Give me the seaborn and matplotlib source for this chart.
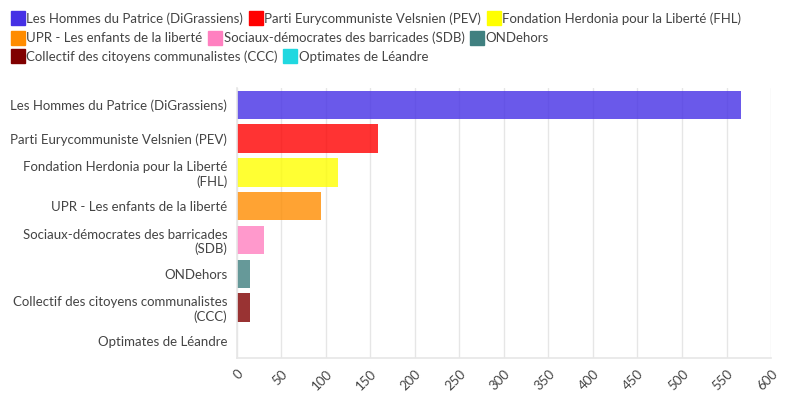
import matplotlib
matplotlib.use("Agg")
import matplotlib.pyplot as plt
from matplotlib.lines import Line2D
import seaborn as sns
import pandas as pd

# Data
parties = [
    "Les Hommes du Patrice (DiGrassiens)",
    "Parti Eurycommuniste Velsnien (PEV)",
    "Fondation Herdonia pour la Liberté (FHL)",
    "UPR - Les enfants de la liberté",
    "Sociaux-démocrates des barricades (SDB)",
    "ONDehors",
    "Collectif des citoyens communalistes (CCC)",
    "Optimates de Léandre",
]
tick_labels = [
    "Les Hommes du Patrice (DiGrassiens)",
    "Parti Eurycommuniste Velsnien (PEV)",
    "Fondation Herdonia pour la Liberté\n(FHL)",
    "UPR - Les enfants de la liberté",
    "Sociaux-démocrates des barricades\n(SDB)",
    "ONDehors",
    "Collectif des citoyens communalistes\n(CCC)",
    "Optimates de Léandre",
]
votes = [566, 159, 114, 94, 30, 15, 15, 0]
colors = ["#4530E5", "#FF0000", "#FFFF00", "#FF8C00",
          "#FF80C0", "#408080", "#800000", "#20D8E0"]

df = pd.DataFrame({"party": parties, "votes": votes})
palette = dict(zip(parties, colors))

sns.set_theme(style="white")
plt.rcParams["font.family"] = ["Lato", "DejaVu Sans"]
text_col = "#444444"

fig = plt.figure(figsize=(7.96, 4.15), dpi=100)
ax = fig.add_axes([0.2977, 0.137, 0.6709, 0.651])

sns.barplot(data=df, x="votes", y="party", hue="party", palette=palette,
            order=parties, hue_order=parties, orient="h", alpha=0.8,
            saturation=1, width=0.84, linewidth=0, legend=False, ax=ax)

ax.set_xlim(0, 600)
ax.set_xticks(range(0, 601, 50))
ax.set_yticks(range(len(parties)))
ax.set_yticklabels(tick_labels, ha="right", multialignment="right")
ax.set_xlabel("")
ax.set_ylabel("")
ax.grid(axis="x", color="#e6e6e6", linewidth=1)
ax.set_axisbelow(True)
for s in ["top", "right"]:
    ax.spines[s].set_visible(False)
for s in ["left", "bottom"]:
    ax.spines[s].set_color("#e6e6e6")
    ax.spines[s].set_linewidth(1.2)
ax.tick_params(axis="both", length=4, color="#e6e6e6", labelsize=9.5,
               labelcolor=text_col, pad=3)
plt.setp(ax.get_xticklabels(), rotation=45, ha="right", rotation_mode="anchor")

# legend rows, flowing left to right like the original
rows = [[0, 1, 2], [3, 4, 5], [6, 7]]
row_y = [0.993, 0.946, 0.901]
for idx, y in zip(rows, row_y):
    handles = [Line2D([], [], marker="s", linestyle="", markersize=10,
                      markerfacecolor=colors[i], markeredgecolor=colors[i])
               for i in idx]
    fig.legend(handles, [parties[i] for i in idx], loc="upper left",
               bbox_to_anchor=(0.005, y), ncol=len(idx), frameon=False,
               fontsize=9.5, handlelength=0.7, handletextpad=0.3,
               columnspacing=0.6, borderaxespad=0.3, labelcolor=text_col)

fig.savefig("out.png", dpi=100)
